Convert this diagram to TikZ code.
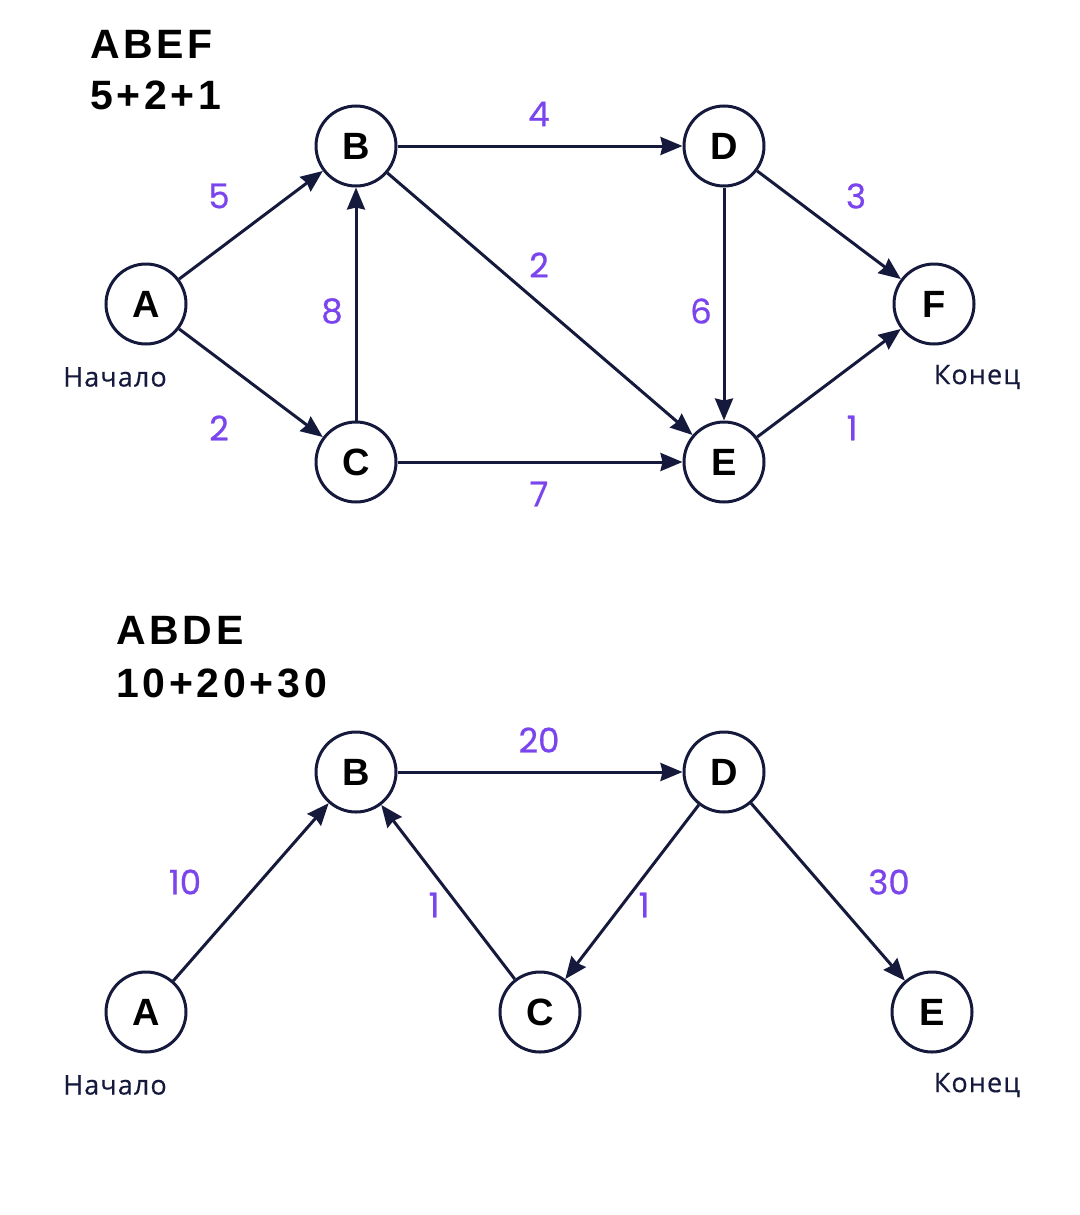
\documentclass[tikz,border=0pt]{standalone}
\usepackage{fontspec}
\setmainfont{Liberation Sans}
\newfontfamily\wtfont{Poppins}[FakeBold=0.6]
\newfontfamily\lblfont{Open Sans}[LetterSpace=4, FakeBold=0.5]
\newfontfamily\ttlfont{Liberation Sans}[LetterSpace=9]
\usetikzlibrary{arrows.meta}
\definecolor{ink}{HTML}{151A3C}
\definecolor{wtpurple}{HTML}{7B45EE}

\begin{document}
\begin{tikzpicture}[x=0.5pt, y=-0.5pt,
    vert/.style={circle, draw=ink, line width=1.5pt, fill=white, minimum size=40pt,
                 inner sep=0pt, font=\fontsize{19}{21}\selectfont\bfseries},
    wt/.style={text=wtpurple, font=\wtfont\fontsize{17}{19}\selectfont},
    lbl/.style={text=ink, font=\lblfont\fontsize{13.5}{16}\selectfont},
    title/.style={anchor=west, inner sep=0pt, font=\ttlfont\fontsize{20.5}{24}\selectfont\bfseries},
    flow/.style={-{Stealth[length=11pt, width=9pt, inset=1pt]}, line width=1.5pt, draw=ink}
]
\useasboundingbox (0,0) rectangle (1080,1215);

% upper graph
\node[title] (t1) at (90,44) {ABEF};
\node[title] (s1) at (90,95) {5+2+1};
\node[vert] (a1) at (146,304) {A};
\node[vert] (b1) at (356,146) {B};
\node[vert] (c1) at (356,462) {C};
\node[vert] (d1) at (724,146) {D};
\node[vert] (e1) at (724,462) {E};
\node[vert] (f1) at (934,304) {F};
\node[lbl] (st1) at (115,377) {Начало};
\node[lbl] (en1) at (977,377) {Конец};
\foreach \a/\b in {a1/b1, a1/c1, c1/b1, b1/d1, b1/e1, c1/e1, d1/e1, d1/f1, e1/f1}{\draw[flow] (\a)--(\b);}
\node[wt] at (219,196) {5};
\node[wt] at (219,428) {2};
\node[wt] at (332,311) {8};
\node[wt] at (539,114) {4};
\node[wt] at (539,265) {2};
\node[wt] at (539,494) {7};
\node[wt] at (701,311) {6};
\node[wt] at (856,196) {3};
\node[wt] at (852,428) {1};

% lower graph
\node[title] (t2) at (116,630) {ABDE};
\node[title] (s2) at (116,683) {10+20+30};
\node[vert] (a2) at (146,1012) {A};
\node[vert] (b2) at (356,772) {B};
\node[vert] (c2) at (540,1012) {C};
\node[vert] (d2) at (724,772) {D};
\node[vert] (e2) at (932,1012) {E};
\node[lbl] (st2) at (115,1085) {Начало};
\node[lbl] (en2) at (977,1085) {Конец};
\foreach \a/\b in {a2/b2, b2/d2, c2/b2, d2/c2, d2/e2}{\draw[flow] (\a)--(\b);}
\node[wt] at (185,882) {10};
\node[wt] at (539,740) {20};
\node[wt] at (434,905) {1};
\node[wt] at (644,905) {1};
\node[wt] at (889,882) {30};
\end{tikzpicture}
\end{document}
